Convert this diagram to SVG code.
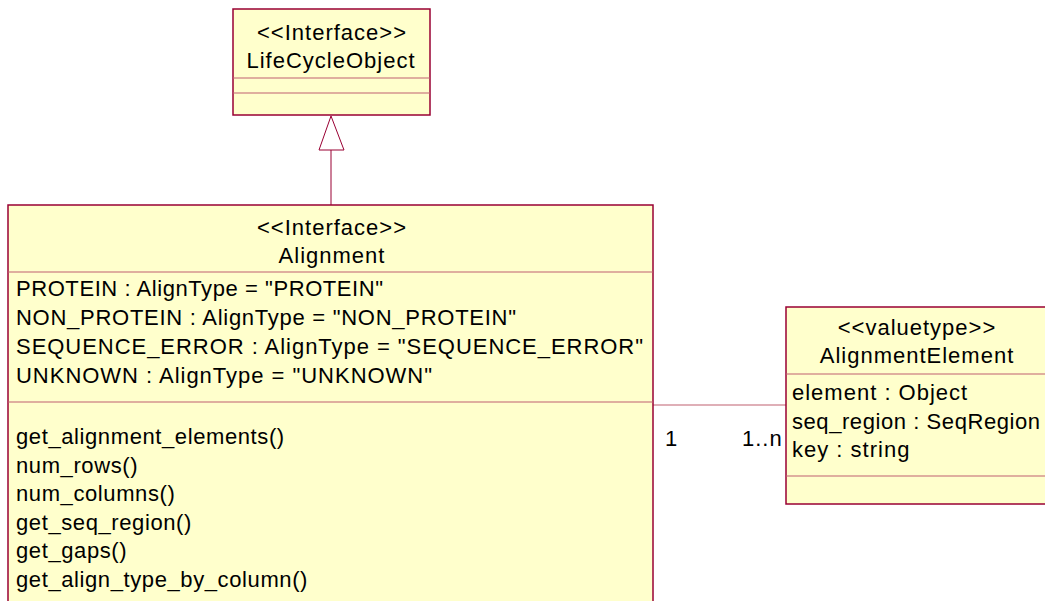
<svg xmlns="http://www.w3.org/2000/svg" width="1045" height="601" viewBox="0 0 1045 601">
  <style>
    .box { fill: #FFFFCC; stroke: #990033; stroke-width: 1.5; }
    .div { stroke: #C06070; stroke-width: 1.2; fill: none; }
    .conn { stroke: #990033; stroke-width: 1; fill: none; }
    text { font-family: "Liberation Sans", Arial, sans-serif; font-size: 22px; letter-spacing: 1px; fill: #000; }
    .c { text-anchor: middle; }
    .op { letter-spacing: 0.6px; }
  </style>
  <rect width="1045" height="601" fill="#FFFFFF"/>

  <g id="connectors">
    <!-- generalization Alignment -> LifeCycleObject -->
    <line class="conn" x1="331" y1="150" x2="331" y2="205"/>
    <polygon points="331,116 319,150 344,150" fill="#FFFFFF" stroke="#990033" stroke-width="1"/>
    <!-- association Alignment - AlignmentElement -->
    <line class="div" x1="653" y1="405" x2="786" y2="405"/>
    <text x="665" y="446">1</text>
    <text x="742" y="446">1..n</text>
  </g>

  <g id="LifeCycleObject">
    <rect class="box" x="233" y="9" width="197" height="106"/>
    <line class="div" x1="233" y1="78" x2="430" y2="78"/>
    <line class="div" x1="233" y1="93" x2="430" y2="93"/>
    <text class="c" x="332" y="40">&lt;&lt;Interface&gt;&gt;</text>
    <text class="c" x="331" y="68">LifeCycleObject</text>
  </g>

  <g id="Alignment">
    <rect class="box" x="8" y="205" width="645" height="410"/>
    <line class="div" x1="8" y1="272" x2="653" y2="272"/>
    <line class="div" x1="8" y1="402" x2="653" y2="402"/>
    <text class="c" x="332" y="235">&lt;&lt;Interface&gt;&gt;</text>
    <text class="c" x="332" y="263">Alignment</text>
    <text x="16" y="296" textLength="368" lengthAdjust="spacing">PROTEIN : AlignType = "PROTEIN"</text>
    <text x="16" y="325" textLength="501" lengthAdjust="spacing">NON_PROTEIN : AlignType = "NON_PROTEIN"</text>
    <text x="16" y="354" textLength="628" lengthAdjust="spacing">SEQUENCE_ERROR : AlignType = "SEQUENCE_ERROR"</text>
    <text x="16" y="383" textLength="417" lengthAdjust="spacing">UNKNOWN : AlignType = "UNKNOWN"</text>
    <text class="op" x="16" y="444">get_alignment_elements()</text>
    <text class="op" x="16" y="473">num_rows()</text>
    <text class="op" x="16" y="501">num_columns()</text>
    <text class="op" x="16" y="530">get_seq_region()</text>
    <text class="op" x="16" y="558">get_gaps()</text>
    <text class="op" x="16" y="587">get_align_type_by_column()</text>
  </g>

  <g id="AlignmentElement">
    <rect class="box" x="786" y="307" width="270" height="197"/>
    <line class="div" x1="786" y1="374" x2="1045" y2="374"/>
    <line class="div" x1="786" y1="476" x2="1045" y2="476"/>
    <text class="c" x="917" y="335">&lt;&lt;valuetype&gt;&gt;</text>
    <text class="c" x="917" y="363">AlignmentElement</text>
    <text x="792" y="400">element : Object</text>
    <text x="792" y="429" textLength="249" lengthAdjust="spacing">seq_region : SeqRegion</text>
    <text x="792" y="457">key : string</text>
  </g>
</svg>
